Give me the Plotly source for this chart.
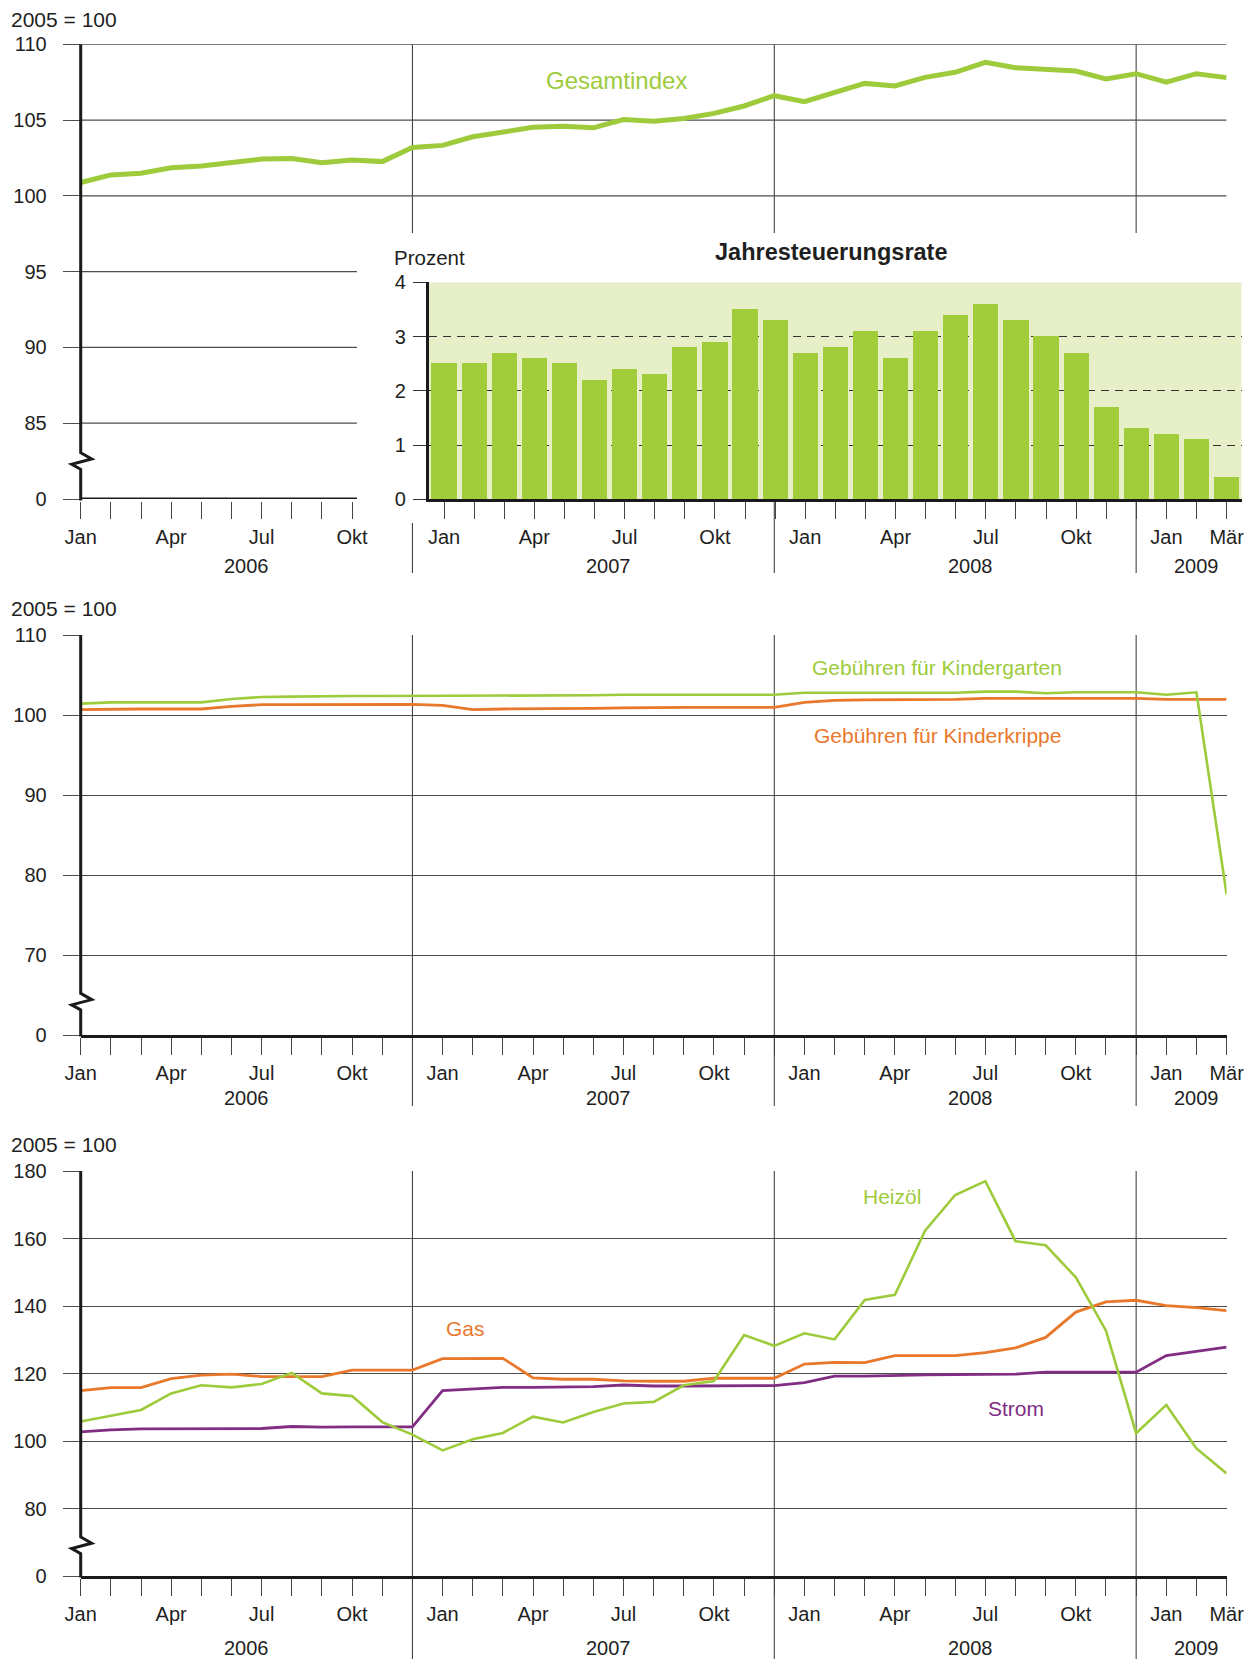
import plotly.graph_objects as go

W, H = 1252, 1659

# ------------------------------------------------------------------ data
YEARS = [2006, 2007, 2008, 2009]
MONTH_NAMES = ["Jan", "Feb", "Mär", "Apr", "Mai", "Jun", "Jul", "Aug", "Sep", "Okt", "Nov", "Dez"]
LABELED_MONTHS = ["Jan", "Apr", "Jul", "Okt"]
N_MONTHS = 39  # Jan 2006 .. Mär 2009

gesamtindex = [100.88, 101.38, 101.49, 101.86, 101.97, 102.21, 102.43, 102.46, 102.19, 102.37,
               102.26, 103.19, 103.33, 103.90, 104.23, 104.52, 104.60, 104.49, 105.04, 104.93,
               105.11, 105.44, 105.93, 106.61, 106.21, 106.83, 107.42, 107.25, 107.82, 108.15,
               108.81, 108.46, 108.35, 108.24, 107.71, 108.06, 107.51, 108.06, 107.80]

RATE_START = 12  # Jan 2007
jahresteuerungsrate = [2.5, 2.5, 2.7, 2.6, 2.5, 2.2, 2.4, 2.3, 2.8, 2.9, 3.5, 3.3,
                       2.7, 2.8, 3.1, 2.6, 3.1, 3.4, 3.6, 3.3, 3.0, 2.7, 1.7, 1.3,
                       1.2, 1.1, 0.4]

kindergarten = [101.42, 101.58, 101.58, 101.58, 101.58, 102.00, 102.25, 102.30, 102.38, 102.38,
                102.38, 102.38, 102.38, 102.38, 102.42, 102.46, 102.46, 102.46, 102.54, 102.54,
                102.54, 102.54, 102.54, 102.54, 102.79, 102.79, 102.79, 102.79, 102.79, 102.79,
                102.92, 102.92, 102.71, 102.84, 102.84, 102.84, 102.54, 102.84, 77.60]

kinderkrippe = [100.67, 100.75, 100.75, 100.75, 100.75, 101.08, 101.29, 101.29, 101.29, 101.31,
                101.31, 101.33, 101.20, 100.67, 100.75, 100.75, 100.79, 100.83, 100.88, 100.96,
                100.96, 100.96, 100.96, 100.96, 101.58, 101.83, 101.88, 101.88, 101.92, 101.96,
                102.08, 102.08, 102.08, 102.08, 102.08, 102.08, 101.96, 101.96, 101.96]

heizoel = [105.8, 107.6, 109.2, 114.1, 116.5, 115.9, 116.9, 120.2, 114.1, 113.3,
           105.6, 101.9, 97.2, 100.5, 102.4, 107.2, 105.5, 108.6, 111.1, 111.6,
           116.5, 117.8, 131.4, 128.2, 131.9, 130.1, 141.8, 143.3, 162.3, 172.9,
           177.0, 159.2, 158.0, 148.5, 132.7, 102.3, 110.7, 97.8, 90.4]

gas = [114.9, 115.8, 115.8, 118.5, 119.5, 119.8, 119.1, 119.1, 119.1, 121.0,
       121.0, 121.0, 124.4, 124.4, 124.5, 118.7, 118.3, 118.3, 117.8, 117.7,
       117.7, 118.6, 118.6, 118.6, 122.8, 123.3, 123.2, 125.3, 125.3, 125.3,
       126.2, 127.6, 130.7, 138.2, 141.2, 141.7, 140.1, 139.5, 138.6]

strom = [102.7, 103.3, 103.6, 103.6, 103.6, 103.8, 103.7, 104.3, 104.1, 104.2,
         104.2, 104.2, 114.9, 115.4, 115.9, 115.9, 115.9, 116.1, 116.6, 116.3,
         116.3, 116.3, 116.3, 116.4, 117.3, 119.2, 119.2, 119.5, 119.6, 119.7,
         119.8, 119.8, 120.4, 120.4, 120.4, 120.4, 125.3, 126.5, 127.8]

# y tick values (broken axis: lowest tick is labelled "0")
P1_TICKVALS = [80, 85, 90, 95, 100, 105, 110]
P1_TICKTEXT = ["0", "85", "90", "95", "100", "105", "110"]
P2_TICKVALS = [60, 70, 80, 90, 100, 110]
P2_TICKTEXT = ["0", "70", "80", "90", "100", "110"]
P3_TICKVALS = [60, 80, 100, 120, 140, 160, 180]
P3_TICKTEXT = ["0", "80", "100", "120", "140", "160", "180"]
RATE_TICKVALS = [0, 1, 2, 3, 4]

# ------------------------------------------------------------------ derived categories
x_all = list(range(N_MONTHS))
periods = [(YEARS[0] + i // 12, MONTH_NAMES[i % 12]) for i in x_all]
tick_text = [m if (m in LABELED_MONTHS or i == N_MONTHS - 1) else "" for i, (yr, m) in enumerate(periods)]
x_rate = x_all[RATE_START:RATE_START + len(jahresteuerungsrate)]
year_centers = {yr: sum(i for i, p in enumerate(periods) if p[0] == yr) /
                    sum(1 for p in periods if p[0] == yr) for yr in YEARS}
year_ends = [max(i for i, p in enumerate(periods) if p[0] == yr) for yr in YEARS[:-1]]
P1_MAIN_LAST = 9  # months visible left of the inset

# ------------------------------------------------------------------ style / geometry
FONT = "Liberation Sans, Arial, sans-serif"
TXT = "#1f1f1f"
GREEN = "#9dcb3b"
BAR = "#a2cd3b"
INSET_BG = "#e6efc8"
ORANGE = "#e8782b"
PURPLE = "#812d84"
GRID = "#4d4d4d"
AXIS = "#1a1a1a"

X_LEFT, X_RIGHT = 80.7, 1226.6
PITCH = (X_RIGHT - X_LEFT) / (N_MONTHS - 1)
P1_TOP, P1_BOT = 44.3, 499.0
P2_TOP, P2_BOT = 635.0, 1035.0
P3_TOP, P3_BOT = 1171.0, 1576.0
IN_TOP, IN_BOT = 282.3, 499.3


def fx(px):
    return px / W


def fy(py):
    return 1 - py / H


def mx(i):
    return X_LEFT + i * PITCH


tickfont = dict(family=FONT, size=20, color=TXT)

fig = go.Figure()

fig.add_trace(go.Scatter(x=x_all, y=gesamtindex, mode="lines", line=dict(color=GREEN, width=5),
                         xaxis="x", yaxis="y", hoverinfo="skip"))
fig.add_trace(go.Bar(x=x_rate, y=jahresteuerungsrate, marker=dict(color=BAR, line=dict(width=0)),
                     width=0.835, xaxis="x2", yaxis="y2", hoverinfo="skip"))
fig.add_trace(go.Scatter(x=x_all, y=kinderkrippe, mode="lines", line=dict(color=ORANGE, width=2.8),
                         xaxis="x3", yaxis="y3", hoverinfo="skip"))
fig.add_trace(go.Scatter(x=x_all, y=kindergarten, mode="lines", line=dict(color=GREEN, width=2.6),
                         xaxis="x3", yaxis="y3", hoverinfo="skip"))
fig.add_trace(go.Scatter(x=x_all, y=strom, mode="lines", line=dict(color=PURPLE, width=2.8),
                         xaxis="x4", yaxis="y4", hoverinfo="skip"))
fig.add_trace(go.Scatter(x=x_all, y=gas, mode="lines", line=dict(color=ORANGE, width=2.8),
                         xaxis="x4", yaxis="y4", hoverinfo="skip"))
fig.add_trace(go.Scatter(x=x_all, y=heizoel, mode="lines", line=dict(color=GREEN, width=2.6),
                         xaxis="x4", yaxis="y4", hoverinfo="skip"))

xcommon = dict(range=[0, N_MONTHS - 1], domain=[fx(X_LEFT), fx(X_RIGHT)], ticks="outside",
               ticklen=17, tickwidth=1.2, tickcolor="#444", tickfont=tickfont, showgrid=False,
               zeroline=False, ticklabelstandoff=1, fixedrange=True, automargin=False,
               showline=True, linewidth=3, linecolor=AXIS)
ycommon = dict(ticks="outside", ticklen=17, tickwidth=1.3, tickcolor=GRID, tickfont=tickfont,
               zeroline=False, showline=False, ticklabelstandoff=12, fixedrange=True,
               gridcolor=GRID, gridwidth=1.3, automargin=False)

main_ticks = x_all[:P1_MAIN_LAST + 1]
fig.update_layout(
    template="none",
    width=W, height=H, autosize=False, margin=dict(l=0, r=0, t=0, b=0, pad=0),
    paper_bgcolor="white", plot_bgcolor="rgba(0,0,0,0)", showlegend=False,
    bargap=0,
    xaxis=dict(xcommon, anchor="y", tickvals=main_ticks, ticktext=[tick_text[i] for i in main_ticks],
               linecolor="rgba(0,0,0,0)"),
    yaxis=dict(ycommon, anchor="x", domain=[fy(P1_BOT), fy(P1_TOP)], range=[80, 110],
               tickvals=P1_TICKVALS, ticktext=P1_TICKTEXT, showgrid=False),
    xaxis2=dict(xcommon, anchor="y2", range=[RATE_START - 0.5, N_MONTHS - 0.5],
                domain=[fx(mx(RATE_START - 0.5) + 1.5), fx(mx(N_MONTHS - 0.5))],
                tickvals=x_rate, ticktext=[tick_text[i] for i in x_rate]),
    yaxis2=dict(anchor="x2", domain=[fy(IN_BOT), fy(IN_TOP)], range=[0, 4], tickvals=RATE_TICKVALS,
                ticks="outside", ticklen=13, tickwidth=1.2, tickcolor="#333", tickfont=tickfont,
                ticklabelstandoff=3, showgrid=True, gridcolor="#333", gridwidth=1.2,
                griddash="8px,6px", showline=True, linewidth=3, linecolor=AXIS,
                zeroline=False, fixedrange=True, automargin=False),
    xaxis3=dict(xcommon, anchor="y3", tickvals=x_all, ticktext=tick_text),
    yaxis3=dict(ycommon, anchor="x3", domain=[fy(P2_BOT), fy(P2_TOP)], range=[60, 110],
                tickvals=P2_TICKVALS, ticktext=P2_TICKTEXT, showgrid=True),
    xaxis4=dict(xcommon, anchor="y4", tickvals=x_all, ticktext=tick_text),
    yaxis4=dict(ycommon, anchor="x4", domain=[fy(P3_BOT), fy(P3_TOP)], range=[60, 180],
                tickvals=P3_TICKVALS, ticktext=P3_TICKTEXT, showgrid=True),
)

shapes = []
# inset background
shapes.append(dict(type="rect", xref="x2", yref="y2", x0=RATE_START - 0.5, x1=N_MONTHS - 0.5,
                   y0=0, y1=4, fillcolor=INSET_BG, line=dict(width=0), layer="below"))
# panel 1 gridlines
for v in P1_TICKVALS[1:]:
    x1 = N_MONTHS - 1 if v >= 100 else P1_MAIN_LAST + 0.16
    shapes.append(dict(type="line", xref="x", yref="y", x0=0, x1=x1, y0=v, y1=v,
                       line=dict(color=GRID, width=1.3), layer="below"))
# panel 1 baseline (thick)
shapes.append(dict(type="line", xref="x", yref="y", x0=0, x1=P1_MAIN_LAST + 0.16, y0=80, y1=80,
                   line=dict(color=AXIS, width=3), layer="above"))

# year separators
sep = dict(color="#333", width=1)
for e in year_ends:
    shapes.append(dict(type="line", xref="x", yref="paper", x0=e, x1=e, y0=fy(P1_TOP), y1=fy(233),
                       line=sep, layer="below"))
    y_start = 523 if e < RATE_START else P1_BOT
    shapes.append(dict(type="line", xref="x", yref="paper", x0=e, x1=e, y0=fy(y_start), y1=fy(573),
                       line=sep, layer="below"))
    shapes.append(dict(type="line", xref="x3", yref="paper", x0=e, x1=e, y0=fy(P2_TOP), y1=fy(1106),
                       line=sep, layer="below"))
    shapes.append(dict(type="line", xref="x4", yref="paper", x0=e, x1=e, y0=fy(P3_TOP), y1=fy(H),
                       line=sep, layer="below"))


# broken y axes (vertical line with zigzag)
def broken_axis(top, brk, bottom):
    a = X_LEFT
    pts = [(a, top), (a, brk), (a + 11, brk + 6.3), (a - 9, brk + 11.6), (a, brk + 16.6), (a, bottom)]
    path = "M " + " L ".join(f"{fx(px):.5f},{fy(py):.5f}" for px, py in pts)
    return dict(type="path", xref="paper", yref="paper", path=path,
                line=dict(color=AXIS, width=3), layer="above")


shapes.append(broken_axis(P1_TOP, 452.7, P1_BOT + 1.5))
shapes.append(broken_axis(P2_TOP, 993.3, P2_BOT + 1.5))
shapes.append(broken_axis(P3_TOP, 1537.0, P3_BOT + 1.5))
fig.update_layout(shapes=shapes)

# ------------------------------------------------------------------ annotations
ann = []


def note(text, x, y, xref, yref, color=TXT, size=20, xanchor="center", bold=False):
    ann.append(dict(text=f"<b>{text}</b>" if bold else text, x=x, y=y, xref=xref, yref=yref,
                    showarrow=False, xanchor=xanchor, yanchor="middle",
                    font=dict(family=FONT, size=size, color=color)))


for py in (19.0, 608.5, 1144.5):
    note("2005 = 100", fx(9), fy(py), "paper", "paper", xanchor="left", size=21)

for xr, py in (("x", 566.0), ("x3", 1098.0), ("x4", 1648.0)):
    for yr in YEARS:
        note(str(yr), year_centers[yr], fy(py), xr, "paper")

note("Prozent", fx(392), fy(257.5), "paper", "paper", xanchor="left", size=20.5)
note("Jahresteuerungsrate", fx(831), fy(252), "paper", "paper", size=23.5, bold=True)

note("Gesamtindex", 17.78, 107.6, "x", "y", color=GREEN, size=24)
note("Gebühren für Kindergarten", 28.41, 105.9, "x3", "y3", color=GREEN, size=21)
note("Gebühren für Kinderkrippe", 28.41, 97.4, "x3", "y3", color=ORANGE, size=21)
note("Gas", 12.77, 133.4, "x4", "y4", color=ORANGE, size=21)
note("Heizöl", 26.92, 172.5, "x4", "y4", color=GREEN, size=21)
note("Strom", 31.0, 109.7, "x4", "y4", color=PURPLE, size=21)

fig.update_layout(annotations=ann)

fig.write_html("out.html", config={"displayModeBar": False},
               post_script="document.body.style.margin='0';")
